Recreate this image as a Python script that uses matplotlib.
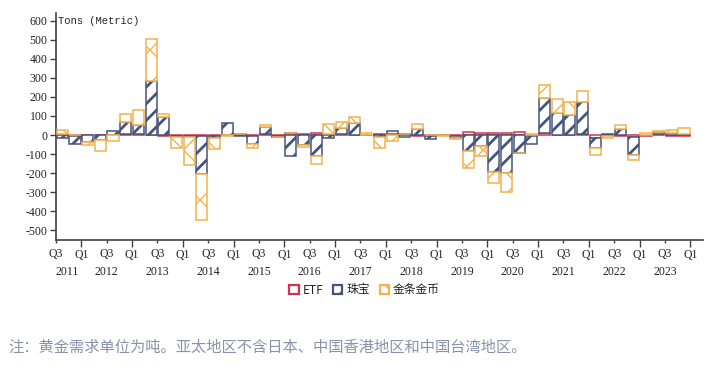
import matplotlib
matplotlib.use("Agg")
import matplotlib.pyplot as plt
import matplotlib.transforms as mtransforms
from matplotlib.patches import Patch
import numpy as np

# Asia-Pacific gold demand, y/y change per quarter (tonnes), Q3 2011 .. Q4 2023
ETF = [5, -3, -2, -2, 2, 3, 3, 2, -5, -3,
       -3, -3, -3, 2, 5, -5, 3, -3, 10, 5,
       8, 5, 3, 2, 2, 3, 6, 5, -4, -5,
       -2, -5, 14, 8, 12, 8, 15, -3, 12, 2,
       2, 3, -15, -5, -3, -8, -5, 3, -5, -5]
JEWELLERY = [-18, -45, -33, -22, 20, 65, 48, 280, 96, -7,
             -5, -202, -15, 62, -5, -40, 40, -8, -112, -52,
             -110, -15, 35, 60, 0, -10, 16, -10, 32, -15,
             0, -10, -82, -58, -195, -200, -92, -45, 185, 112,
             105, 168, -52, 5, 30, -95, 0, 15, 10, 5]
BARS_COINS = [20, 0, -20, -58, -30, 42, 78, 224, 14, -60,
              -148, -240, -55, -5, 0, -25, 7, -2, 0, -12,
              -42, 55, 32, 33, 10, -60, -32, 0, 28, 0,
              -3, -4, -92, -50, -55, -100, -5, 5, 68, 75,
              66, 60, -40, -10, 20, -30, 8, 5, 15, 30]
YEARS = [str(y) for y in range(2011, 2024)]
Y_TICKS = [600, 500, 400, 300, 200, 100, 0, -100, -200, -300, -400, -500]

SERIES = [
    ("ETF", ETF, "#d3324b", None, 1.0),
    ("珠宝", JEWELLERY, "#45557a", "//", 2.0),
    ("金条金币", BARS_COINS, "#f3b24c", "x", 1.0),
]

CJK = ["Noto Sans CJK SC", "DejaVu Sans"]
SERIF = "Liberation Serif"

fig = plt.figure(figsize=(7.15, 3.66), dpi=100)
ax = fig.add_axes([0.0783, 0.344, 0.905, 0.6205])

n = len(ETF)
x = np.arange(n) + 0.5
pos_base = np.zeros(n)
neg_base = np.zeros(n)
for name, vals, color, hatch, hlw in SERIES:
    v = np.array(vals, dtype=float)
    bottom = np.where(v >= 0, pos_base, neg_base)
    bars = ax.bar(x, v, bottom=bottom, width=0.88, facecolor="white",
                  edgecolor=color, linewidth=1.1, hatch=hatch, zorder=3)
    for b in bars:
        if hasattr(b, "set_hatch_linewidth"):
            b.set_hatch_linewidth(hlw)
    pos_base += np.where(v >= 0, v, 0)
    neg_base += np.where(v < 0, v, 0)

ax.set_xlim(0, 51)
ax.set_ylim(-552, 641)

for s in ["top", "right"]:
    ax.spines[s].set_visible(False)
for s in ["left", "bottom"]:
    ax.spines[s].set_color("#404040")
    ax.spines[s].set_linewidth(1.2)

ax.set_yticks(Y_TICKS)
ax.set_yticklabels([str(t) for t in Y_TICKS], fontfamily=SERIF, fontsize=8.5,
                   color="#222222")
ax.tick_params(axis="y", length=4, width=1, color="#404040", pad=2)

q1_pos = np.arange(2, 51, 4)
q3_pos = np.arange(0, 49, 4)
ax.set_xticks(q1_pos, ["Q1"] * len(q1_pos))
ax.set_xticks(q3_pos, ["Q3"] * len(q3_pos), minor=True)
for lab in ax.get_xticklabels(minor=False) + ax.get_xticklabels(minor=True):
    lab.set_fontfamily(SERIF)
    lab.set_fontsize(8.5)
    lab.set_color("#222222")
ax.tick_params(axis="x", which="major", length=5, width=1, color="#404040", pad=1.5)
ax.tick_params(axis="x", which="minor", length=2.5, width=1, color="#404040", pad=3.3)

trans = mtransforms.blended_transform_factory(ax.transData, ax.transAxes)
year_x = [0.85] + [4 * k for k in range(1, len(YEARS))]
for yx, yr in zip(year_x, YEARS):
    ax.text(yx, -0.14, yr, transform=trans, ha="center", va="center",
            fontfamily=SERIF, fontsize=8.5, color="#222222")

ax.text(0.003, 0.985, "Tons (Metric)", transform=ax.transAxes, ha="left",
        va="top", fontfamily="Liberation Mono", fontsize=7.6, color="#222222")

handles = [Patch(facecolor="white", edgecolor=c, hatch=h, linewidth=1.6)
           for _, _, c, h, _ in SERIES]
labels = [s[0] for s in SERIES]
leg = fig.legend(handles, labels, loc="center", bbox_to_anchor=(0.51, 1 - 290 / 366),
                 ncol=3, frameon=False, handlelength=0.8, handleheight=0.8,
                 handletextpad=0.35, columnspacing=0.8, prop={"family": CJK, "size": 8.5})
for t in leg.get_texts():
    t.set_color("#222222")

fig.text(8 / 715, 1 - 347 / 366, "注：黄金需求单位为吨。亚太地区不含日本、中国香港地区和中国台湾地区。",
         ha="left", va="center", fontfamily=CJK, fontsize=11, color="#8792ab")

fig.savefig("out.png", dpi=100)
